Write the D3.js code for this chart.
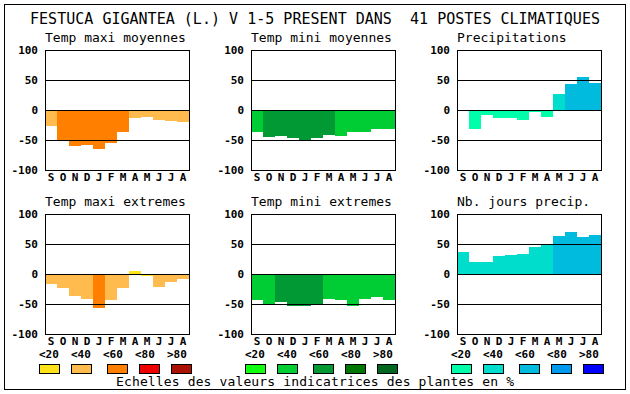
<!DOCTYPE html>
<html lang="fr">
<head>
<meta charset="UTF-8">
<title>Festuca gigantea</title>
<script src="https://d3js.org/d3.v7.min.js"></script>
<style>
  body { margin: 0; background: #fff; }
  svg text { font-family: "DejaVu Sans Mono", monospace; fill: #000; }
  .tick text { font-weight: bold; font-size: 11px; }
</style>
</head>
<body>
<svg id="chart" width="630" height="394"></svg>
<script>
const months = ["S", "O", "N", "D", "J", "F", "M", "A", "M", "J", "J", "A"];
const yTicks = [100, 50, 0, -50, -100];
const classLabels = ["<20", "<40", "<60", "<80", ">80"];

const orangeScale = ["#ffe31a", "#ffbb4d", "#ff8000", "#ee0000", "#aa1100"];
const greenScale = ["#11ff11", "#00cc33", "#009933", "#007700", "#006622"];
const blueScale = ["#00ffaa", "#00ddcc", "#00bbdd", "#0099ee", "#0000ff"];

const titles = ["Temp maxi moyennes", "Temp mini moyennes", "Precipitations",
                "Temp maxi extremes", "Temp mini extremes", "Nb. jours precip."];

// values, plus the colour class (0..4) of each month
const maxiMoy = [-27, -52, -60, -58, -65, -55, -37, -14, -11, -16, -18, -20];
const maxiMoyCls = [1, 2, 2, 2, 2, 2, 2, 1, 1, 1, 1, 1];
const miniMoy = [-37, -45, -44, -46, -52, -47, -42, -44, -36, -36, -32, -31];
const miniMoyCls = [1, 2, 2, 2, 2, 2, 2, 1, 1, 1, 1, 1];
const precip = [0, -31, -8, -14, -13, -16, -4, -11, 27, 44, 55, 45];
const precipCls = [0, 0, 0, 0, 0, 0, 0, 0, 1, 2, 2, 2];
const maxiExt = [-16, -24, -36, -41, -56, -44, -24, 5, -4, -21, -13, -8];
const maxiExtCls = [1, 1, 1, 1, 2, 1, 1, 0, 0, 1, 1, 1];
const miniExt = [-43, -50, -46, -54, -54, -50, -41, -43, -54, -41, -38, -43];
const miniExtCls = [1, 1, 2, 2, 2, 2, 1, 1, 1, 1, 1, 1];
const joursPrecip = [37, 20, 20, 30, 32, 34, 45, 49, 64, 70, 62, 65];
const joursPrecipCls = [1, 1, 1, 1, 1, 1, 1, 1, 2, 2, 2, 2];

const panels = [
  { values: maxiMoy, cls: maxiMoyCls, colors: orangeScale },
  { values: miniMoy, cls: miniMoyCls, colors: greenScale },
  { values: precip, cls: precipCls, colors: blueScale },
  { values: maxiExt, cls: maxiExtCls, colors: orangeScale },
  { values: miniExt, cls: miniExtCls, colors: greenScale },
  { values: joursPrecip, cls: joursPrecipCls, colors: blueScale }
];

const svg = d3.select("#chart");
const colX = [45, 251, 457];
const rowTop = [50, 214];
const plotW = 144, plotH = 120;

// outer frame
svg.append("rect")
  .attr("x", 4.5).attr("y", 4.5)
  .attr("width", 621).attr("height", 385)
  .attr("fill", "none").attr("stroke", "#000");

svg.append("text")
  .attr("x", 30).attr("y", 24)
  .attr("font-size", 15)
  .attr("textLength", 570)
  .attr("xml:space", "preserve")
  .text("FESTUCA GIGANTEA (L.) V 1-5 PRESENT DANS  41 POSTES CLIMATIQUES");

panels.forEach((p, i) => {
  const x0 = colX[i % 3];
  const y0 = rowTop[Math.floor(i / 3)];

  const x = d3.scaleBand().domain(d3.range(12)).range([x0, x0 + plotW]);
  const y = d3.scaleLinear().domain([-100, 100]).range([y0 + plotH, y0]);

  const g = svg.append("g").attr("shape-rendering", "crispEdges");

  g.append("text")
    .attr("x", x0).attr("y", y0 - 8)
    .attr("font-size", 13)
    .text(titles[i]);

  g.selectAll("rect.bar")
    .data(p.values)
    .enter().append("rect")
    .attr("class", "bar")
    .attr("x", (d, j) => x(j))
    .attr("width", x.bandwidth())
    .attr("y", d => y(Math.max(0, d)))
    .attr("height", d => Math.abs(y(d) - y(0)))
    .attr("fill", (d, j) => p.colors[p.cls[j]]);

  // reference lines at 50, 0, -50
  g.selectAll("line.grid")
    .data([50, 0, -50])
    .enter().append("line")
    .attr("x1", x0).attr("x2", x0 + plotW)
    .attr("y1", d => y(d) + 0.5).attr("y2", d => y(d) + 0.5)
    .attr("stroke", "#000");

  g.append("rect")
    .attr("x", x0 + 0.5).attr("y", y0 + 0.5)
    .attr("width", plotW).attr("height", plotH)
    .attr("fill", "none").attr("stroke", "#000");

  svg.append("g")
    .attr("transform", `translate(${x0},0)`)
    .call(d3.axisLeft(y).tickValues(yTicks).tickSize(0).tickPadding(7)
      .tickFormat(d => String(d)))
    .call(a => a.select(".domain").remove());

  svg.append("g")
    .attr("transform", `translate(0,${y0 + plotH})`)
    .call(d3.axisBottom(x).tickSize(0).tickPadding(3)
      .tickFormat(j => months[j]))
    .call(a => a.select(".domain").remove());
});

// colour class legends under each column
const boxOffsets = [0, 32, 68, 100, 132];
const labelOffsets = [0, 32, 64, 96, 128];
[orangeScale, greenScale, blueScale].forEach((colors, c) => {
  const base = colX[c] - 6;
  const lg = svg.append("g");
  lg.selectAll("text")
    .data(classLabels)
    .enter().append("text")
    .attr("x", (d, k) => base + labelOffsets[k])
    .attr("y", 358)
    .attr("font-size", 11)
    .attr("font-weight", "bold")
    .text(d => d);
  lg.selectAll("rect")
    .data(colors)
    .enter().append("rect")
    .attr("x", (d, k) => base + boxOffsets[k] + 0.5)
    .attr("y", 364.5)
    .attr("width", 20).attr("height", 9)
    .attr("fill", d => d)
    .attr("stroke", "#000");
});

svg.append("text")
  .attr("x", 116).attr("y", 386)
  .attr("font-size", 13)
  .attr("textLength", 398)
  .text("Echelles des valeurs indicatrices des plantes en %");
</script>
</body>
</html>
